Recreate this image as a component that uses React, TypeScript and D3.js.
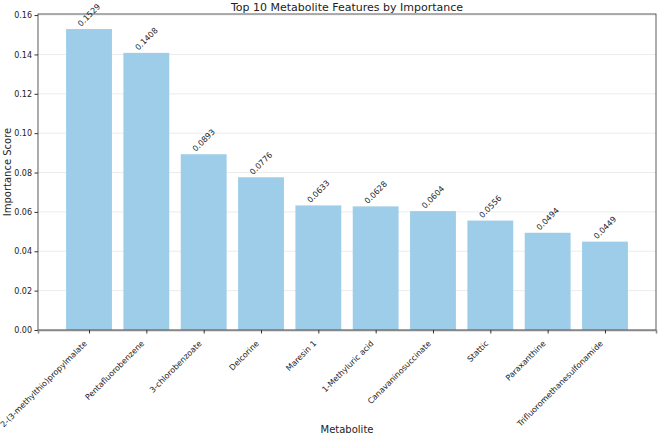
import React, { useEffect, useRef } from 'react';
import * as d3 from 'd3';

const metabolites = [
  '2-(3-methylthio)propylmalate',
  'Pentafluorobenzene',
  '3-chlorobenzoate',
  'Delcorine',
  'Maresin 1',
  '1-Methyluric acid',
  'Canavaninosuccinate',
  'Stattic',
  'Paraxanthine',
  'Trifluoromethanesulfonamide',
];
const scores = [0.1529, 0.1408, 0.0893, 0.0776, 0.0633, 0.0628, 0.0604, 0.0556, 0.0494, 0.0449];
const yTicks = [0, 0.02, 0.04, 0.06, 0.08, 0.1, 0.12, 0.14, 0.16];

const W = 658;
const H = 437;

export default function App() {
  const svgRef = useRef<SVGSVGElement>(null);

  useEffect(() => {
    if (!svgRef.current) return;
    const svg = d3.select(svgRef.current);
    svg.selectAll('*').remove();

    const margin = { top: 14, right: 2, bottom: 107, left: 38 };
    const width = W - margin.left - margin.right;
    const height = H - margin.top - margin.bottom;
    const font = "'DejaVu Sans', sans-serif";

    const g = svg.append('g').attr('transform', `translate(${margin.left},${margin.top})`);

    // matplotlib-like x limits: bars of width 0.8 with 5% margin
    const n = metabolites.length;
    const span = (n - 1) + 0.8;
    const x = d3.scaleLinear()
      .domain([-0.4 - span * 0.05, n - 1 + 0.4 + span * 0.05])
      .range([0, width]);
    const y = d3.scaleLinear()
      .domain([0, d3.max(scores)! * 1.05])
      .range([height, 0]);

    // grid
    g.append('g')
      .selectAll('line')
      .data(yTicks)
      .join('line')
      .attr('x1', 0).attr('x2', width)
      .attr('y1', d => y(d)).attr('y2', d => y(d))
      .attr('stroke', '#b0b0b0')
      .attr('stroke-opacity', 0.3)
      .attr('stroke-width', 0.8);

    // bars
    g.selectAll('rect.bar')
      .data(scores)
      .join('rect')
      .attr('class', 'bar')
      .attr('x', (d, i) => x(i - 0.4))
      .attr('width', x(0.8) - x(0))
      .attr('y', d => y(d))
      .attr('height', d => height - y(d))
      .attr('fill', '#9ecde9');

    // value labels (centered, rotated 45)
    g.selectAll('text.val')
      .data(scores)
      .join('text')
      .attr('class', 'val')
      .attr('transform', (d, i) => `translate(${x(i)},${y(d) - 14}) rotate(-45)`)
      .attr('text-anchor', 'middle')
      .attr('dy', '0.35em')
      .attr('font-family', font)
      .attr('font-size', 8)
      .attr('fill', '#222')
      .text(d => d.toFixed(4));

    // frame
    g.append('rect')
      .attr('x', 0).attr('y', 0)
      .attr('width', width).attr('height', height)
      .attr('fill', 'none')
      .attr('stroke', '#333')
      .attr('stroke-width', 0.8);

    // y axis
    const yAxis = g.append('g')
      .call(d3.axisLeft(y).tickValues(yTicks).tickFormat(d3.format('.2f')).tickSize(3.5).tickPadding(2.5));
    yAxis.select('.domain').remove();
    yAxis.selectAll('text').attr('font-family', font).attr('font-size', 8).attr('fill', '#222');
    yAxis.selectAll('line').attr('stroke', '#333');

    // x axis
    const xAxis = g.append('g')
      .attr('transform', `translate(0,${height})`)
      .call(d3.axisBottom(x).tickValues(d3.range(n)).tickFormat((d) => metabolites[d as number]).tickSize(3.5).tickPadding(3));
    xAxis.select('.domain').attr('stroke', '#888').attr('stroke-width', 1.5);
    xAxis.selectAll('line').attr('stroke', '#333');
    xAxis.selectAll('text')
      .attr('font-family', font)
      .attr('font-size', 8)
      .attr('fill', '#222')
      .attr('text-anchor', 'end')
      .attr('x', 0)
      .attr('y', 0)
      .attr('dy', 0)
      .attr('transform', 'translate(-2,14) rotate(-45)');

    // axis titles
    svg.append('text')
      .attr('x', margin.left + width / 2)
      .attr('y', H - 4)
      .attr('text-anchor', 'middle')
      .attr('font-family', font)
      .attr('font-size', 10)
      .attr('fill', '#222')
      .text('Metabolite');

    svg.append('text')
      .attr('transform', `translate(7,${margin.top + height / 2}) rotate(-90)`)
      .attr('text-anchor', 'middle')
      .attr('dy', '0.35em')
      .attr('font-family', font)
      .attr('font-size', 10)
      .attr('fill', '#222')
      .text('Importance Score');

    svg.append('text')
      .attr('x', margin.left + width / 2)
      .attr('y', 11)
      .attr('text-anchor', 'middle')
      .attr('font-family', font)
      .attr('font-size', 11)
      .attr('fill', '#222')
      .text('Top 10 Metabolite Features by Importance');
  }, []);

  return (
    <svg
      ref={svgRef}
      width={W}
      height={H}
      style={{ position: 'absolute', left: 0, top: 0, background: '#fff' }}
    />
  );
}
